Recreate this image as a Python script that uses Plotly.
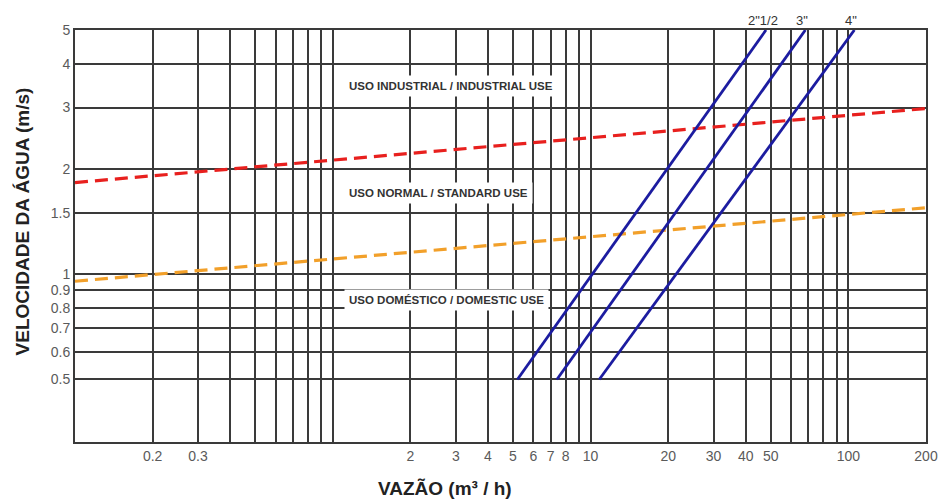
import numpy as np
import plotly.graph_objects as go

# ---- data ----
x_tickvals = [0.2, 0.3, 0.4, 0.5, 0.6, 0.7, 0.8, 0.9, 1,
              2, 3, 4, 5, 6, 7, 8, 9, 10,
              20, 30, 40, 50, 60, 70, 80, 90, 100, 200]
x_ticktext = ["0.2", "0.3", "", "", "", "", "", "", "",
              "2", "3", "4", "5", "6", "7", "8", "", "10",
              "20", "30", "40", "50", "", "", "", "", "100", "200"]
y_tickvals = [0.5, 0.6, 0.7, 0.8, 0.9, 1, 1.5, 2, 3, 4, 5]
y_ticktext = ["0.5", "0.6", "0.7", "0.8", "0.9", "1", "1.5", "2", "3", "4", "5"]

pipe_names = ['2"1/2', '3"', '4"']
pipe_velocity = [0.5, 5]
pipe_flow_low = [5.2, 7.4, 10.8]     # flow at 0.5 m/s
pipe_flow_high = [47.9, 68.1, 105.5]  # flow at 5 m/s

limit_flow = [0.1, 200]
industrial_limit = [1.83, 2.98]
domestic_limit = [0.955, 1.55]

zone_labels = ["USO INDUSTRIAL / INDUSTRIAL USE",
               "USO NORMAL / STANDARD USE",
               "USO DOMÉSTICO / DOMESTIC USE"]
zone_label_x = [1.11, 1.11, 1.11]
zone_label_y = [3.45, 1.71, 0.844]

# ---- figure ----
GRID = "#3a3a3a"
BLUE = "#1c1ca0"
FONT = "Liberation Sans, Arial, sans-serif"

fig = go.Figure()

fig.add_trace(go.Scatter(x=limit_flow, y=industrial_limit, mode="lines",
                         line=dict(color="#e8201e", width=3.2, dash="13px,7px"),
                         hoverinfo="skip", showlegend=False))
fig.add_trace(go.Scatter(x=limit_flow, y=domestic_limit, mode="lines",
                         line=dict(color="#f2a02a", width=3.2, dash="13px,7px"),
                         hoverinfo="skip", showlegend=False))

for name, lo, hi in zip(pipe_names, pipe_flow_low, pipe_flow_high):
    fig.add_trace(go.Scatter(x=[lo, hi], y=pipe_velocity, mode="lines", name=name,
                             line=dict(color=BLUE, width=2.8),
                             showlegend=False))
    fig.add_annotation(x=np.log10(hi), y=np.log10(pipe_velocity[1]), xref="x", yref="y",
                       text=name, showarrow=False, xanchor="center", yanchor="bottom",
                       xshift=-3, yshift=0,
                       font=dict(family=FONT, size=13, color="#333333"))

for txt, xv, yv in zip(zone_labels, zone_label_x, zone_label_y):
    fig.add_annotation(x=np.log10(xv), y=np.log10(yv), xref="x", yref="y",
                       text="<b>" + txt + "</b>", showarrow=False,
                       xanchor="left", yanchor="middle",
                       bgcolor="white", borderpad=4,
                       font=dict(family=FONT, size=11.5, color="#333333"))

# axis titles
fig.add_annotation(xref="paper", yref="paper", x=-0.062, y=0.536,
                   text="<b>VELOCIDADE DA ÁGUA (m/s)</b>", textangle=-90,
                   showarrow=False, xanchor="center", yanchor="middle",
                   font=dict(family=FONT, size=19, color="#222222"))
fig.add_annotation(xref="paper", yref="paper", x=0.435, y=-0.112,
                   text="<b>VAZÃO (m³ / h)</b>",
                   showarrow=False, xanchor="center", yanchor="middle",
                   font=dict(family=FONT, size=19, color="#222222"))

fig.update_xaxes(type="log", range=[-1, np.log10(200)],
                 tickmode="array", tickvals=x_tickvals, ticktext=x_ticktext,
                 showgrid=True, gridcolor=GRID, gridwidth=1.6,
                 showline=True, linecolor=GRID, linewidth=2, mirror=True,
                 ticks="", zeroline=False,
                 tickfont=dict(family=FONT, size=14, color="#5a5a5a"))
fig.update_yaxes(type="log", range=[-0.480, np.log10(5)],
                 tickmode="array", tickvals=y_tickvals, ticktext=y_ticktext,
                 showgrid=True, gridcolor=GRID, gridwidth=1.6,
                 showline=True, linecolor=GRID, linewidth=2, mirror=True,
                 ticks="", zeroline=False,
                 tickfont=dict(family=FONT, size=14, color="#5a5a5a"))

fig.update_layout(width=950, height=499,
                  margin=dict(l=75, r=24, t=30, b=57),
                  plot_bgcolor="white", paper_bgcolor="white",
                  showlegend=False)

fig.write_html("out.html")
